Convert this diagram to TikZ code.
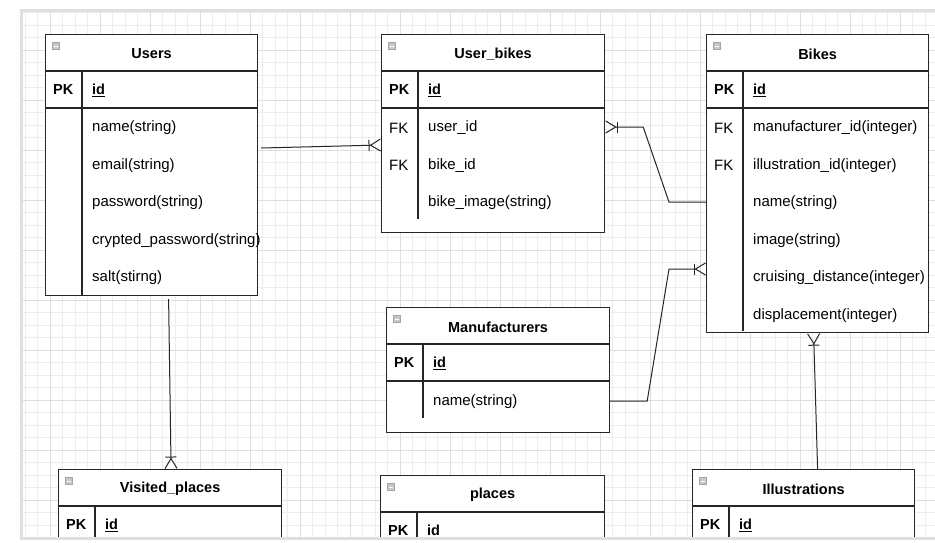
\documentclass[tikz,border=0pt]{standalone}
\usepackage{fontspec}
\setmainfont{Liberation Sans}
\usetikzlibrary{arrows.meta,positioning}

\tikzset{
  tbl/.style={draw=black!85, line width=1.2pt, fill=white, anchor=north west, inner sep=0pt},
  tblline/.style={draw=black!85, line width=1.2pt},
  tblicon/.style={draw=gray!70, fill=gray!45, minimum size=7pt, inner sep=0pt,
    path picture={\draw[white, line width=0.8pt] ([xshift=1.5pt]path picture bounding box.west) -- ([xshift=-1.5pt]path picture bounding box.east);}},
  tbltitle/.style={font=\fontsize{14.5}{17}\selectfont\bfseries},
  pkey/.style={anchor=west, inner sep=0pt, font=\fontsize{14.5}{17}\selectfont\bfseries},
  fkey/.style={anchor=west, inner sep=0pt},
  attr/.style={anchor=west, inner sep=0pt},
  rel/.style={draw=black!85, line width=1pt},
  crowfoot/.style={-{Bar[width=11pt,line width=1pt] Straight Barb[reversed,length=10pt,width=12pt,line width=1pt]}}
}

% name, x, y, width, height, title, divider length
\newcommand{\ertable}[7]{%
  \node[tbl, minimum width=#4pt, minimum height=#5pt] (#1) at (#2,#3) {};
  \node[tblicon] (#1-icon) at ([shift={(11pt,-12pt)}]#1.north west) {};
  \node[tbltitle] (#1-title) at ([yshift=-20pt]#1.north) {#6};
  \draw[tblline] ([yshift=-37pt]#1.north west) -- ([yshift=-37pt]#1.north east);
  \draw[tblline] ([yshift=-74pt]#1.north west) -- ([yshift=-74pt]#1.north east);
  \draw[tblline] ([shift={(37pt,-37pt)}]#1.north west) -- ++(0,-#7pt);
  \node[pkey] (#1-pk) at ([shift={(8pt,-56pt)}]#1.north west) {PK};
  \node[pkey] (#1-id) at ([shift={(47pt,-56pt)}]#1.north west) {\underline{id}};
}

\begin{document}
\begin{tikzpicture}[x=1pt, y=-1pt, font=\fontsize{15}{17}\selectfont]
\useasboundingbox (0,0) rectangle (935,542);
\begin{scope}
\clip (21,10) rectangle (935,538);
\fill[white] (21,10) rectangle (935,538);
\draw[gray!14, line width=0.6pt, step=12.5pt] (21,10) grid (935,538);
\draw[gray!26, line width=0.7pt, step=50pt] (21,10) grid (935,538);

% tables
\ertable{users}{45}{34}{212}{261}{Users}{224}
\foreach \t [count=\i] in {name(string), email(string), password(string),
    crypted\_password(string), salt(stirng)}
  \node[attr] (users-r\i) at ([shift={(47pt,{-94pt-37.5pt*(\i-1)})}]users.north west) {\t};

\ertable{ubikes}{381}{34}{223}{198}{User\_bikes}{148}
\foreach \t [count=\i] in {user\_id, bike\_id, bike\_image(string)}
  \node[attr] (ubikes-r\i) at ([shift={(47pt,{-94pt-37.5pt*(\i-1)})}]ubikes.north west) {\t};
\foreach \i in {1,2}
  \node[fkey] (ubikes-fk\i) at ([shift={(8pt,{-94pt-37.5pt*(\i-1)})}]ubikes.north west) {FK};

\ertable{bikes}{706}{34}{222}{298}{Bikes}{260}
\foreach \t [count=\i] in {manufacturer\_id(integer), illustration\_id(integer), name(string),
    image(string), cruising\_distance(integer), displacement(integer)}
  \node[attr] (bikes-r\i) at ([shift={(47pt,{-94pt-37.5pt*(\i-1)})}]bikes.north west) {\t};
\foreach \i in {1,2}
  \node[fkey] (bikes-fk\i) at ([shift={(8pt,{-94pt-37.5pt*(\i-1)})}]bikes.north west) {FK};

\ertable{manu}{386}{307}{223}{125}{Manufacturers}{74}
\node[attr] (manu-r1) at ([shift={(47pt,-95pt)}]manu.north west) {name(string)};

\ertable{visited}{58}{469}{223}{110}{Visited\_places}{100}
\ertable{places}{380}{475}{224}{110}{places}{100}
\ertable{illus}{692}{469}{222}{110}{Illustrations}{100}

% relations
\draw[rel, crowfoot] ([shift={(3pt,-114pt)}]users.north east) -- ([yshift=-111pt]ubikes.north west);
\draw[rel, crowfoot] ([yshift=-168pt]bikes.north west) -- ++(-37pt,0)
  -- ([shift={(38pt,-93pt)}]ubikes.north east) -- ([yshift=-93pt]ubikes.north east);
\draw[rel, crowfoot] ([yshift=-94pt]manu.north east) -- ++(37pt,0)
  -- ([shift={(-37pt,-235pt)}]bikes.north west) -- ([yshift=-235pt]bikes.north west);
\draw[rel, crowfoot] ([shift={(17pt,-3pt)}]users.south) -- ([xshift=1pt]visited.north);
\draw[rel, crowfoot] ([xshift=14pt]illus.north) -- ([xshift=-4pt]bikes.south);
\end{scope}
\draw[gray!25, line width=3pt] (21,10) rectangle (945,538);
\end{tikzpicture}
\end{document}
